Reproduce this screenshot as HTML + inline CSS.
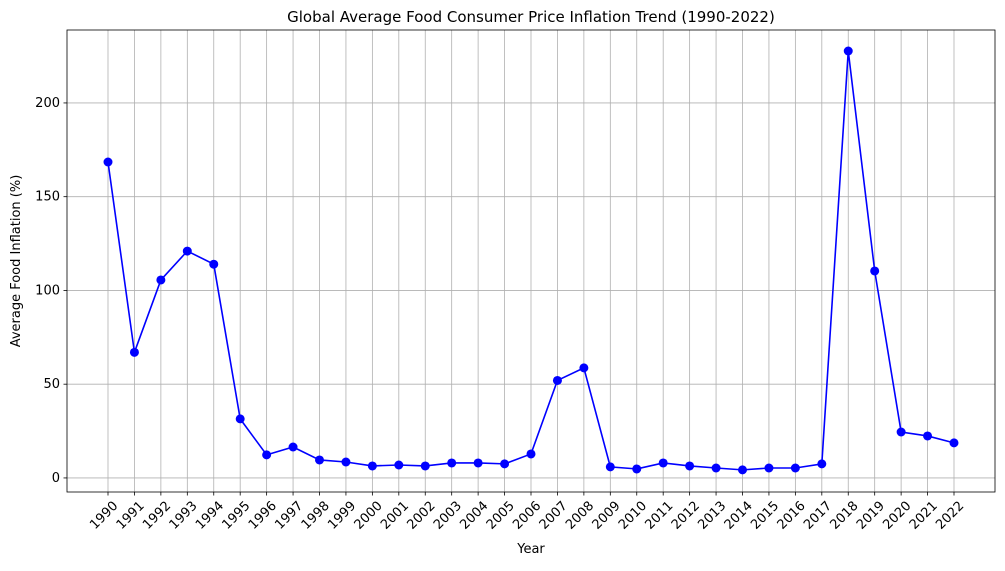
<!DOCTYPE html>
<html><head><meta charset="utf-8"><style>
body{margin:0;background:#fff;font-family:"Liberation Sans","DejaVu Sans",sans-serif}
svg text{font-family:"DejaVu Sans","Liberation Sans",sans-serif;fill:#000}
</style></head><body>
<svg id="c" width="1005" height="566"></svg>
<script>
const years=[1990,1991,1992,1993,1994,1995,1996,1997,1998,1999,2000,2001,2002,2003,2004,2005,2006,2007,2008,2009,2010,2011,2012,2013,2014,2015,2016,2017,2018,2019,2020,2021,2022];
const values=[168.5,67,105.6,121,114,31.5,12.3,16.5,9.6,8.5,6.4,6.9,6.4,8,8,7.5,12.8,52,58.7,5.9,4.8,8,6.4,5.3,4.3,5.3,5.3,7.5,227.7,110.4,24.5,22.4,18.7];
const yTicks=[0,50,100,150,200];
const L=67,R=995,T=30,B=492;
const yMin=-7.5,yMax=238.9;
const x0=108,xStep=(954-108)/32;
const sx=i=>x0+i*xStep;
const sy=v=>B-(v-yMin)/(yMax-yMin)*(B-T);
const svg=document.getElementById('c');
const NS='http://www.w3.org/2000/svg';
function mk(t,a,txt){const e=document.createElementNS(NS,t);for(const k in a)e.setAttribute(k,a[k]);if(txt!==undefined)e.textContent=txt;svg.appendChild(e);return e;}
// grid
years.forEach((y,i)=>{const g=mk('line',{x1:sx(i),x2:sx(i),y1:T,y2:B,stroke:'#b0b0b0','stroke-width':0.8});

});
yTicks.forEach(v=>{const g=mk('line',{x1:L,x2:R,y1:sy(v),y2:sy(v),stroke:'#b0b0b0','stroke-width':0.8});

});
// frame
const f=mk('rect',{x:L,y:T,width:R-L,height:B-T,fill:'none',stroke:'#000','stroke-width':0.8});


// ticks
yTicks.forEach(v=>{mk('line',{x1:L-3.5,x2:L,y1:sy(v),y2:sy(v),stroke:'#000','stroke-width':0.8});
const t=mk('text',{x:L-7,y:sy(v)+4,'text-anchor':'end','font-size':13},String(v));

});
years.forEach((y,i)=>{mk('line',{x1:sx(i),x2:sx(i),y1:B,y2:B+3.5,stroke:'#000','stroke-width':0.8});
const t=mk('text',{x:sx(i)+4,y:B+8,'text-anchor':'end','font-size':13,transform:`rotate(-45 ${sx(i)+4} ${B+8})`,dy:'0.7em'},String(y));

});
// line
const pl=mk('polyline',{points:values.map((v,i)=>sx(i)+','+sy(v)).join(' '),fill:'none',stroke:'#0000ff','stroke-width':1.6});


values.forEach((v,i)=>{const c=mk('circle',{cx:sx(i),cy:sy(v),r:4.5,fill:'#0000ff'});

});
const tt=mk('text',{x:(L+R)/2,y:22,'text-anchor':'middle','font-size':15},'Global Average Food Consumer Price Inflation Trend (1990-2022)');


const xt=mk('text',{x:(L+R)/2,y:553,'text-anchor':'middle','font-size':13},'Year');


const yt=mk('text',{x:20,y:(T+B)/2,'text-anchor':'middle','font-size':13,transform:`rotate(-90 20 ${(T+B)/2})`},'Average Food Inflation (%)');


</script>
</body></html>
